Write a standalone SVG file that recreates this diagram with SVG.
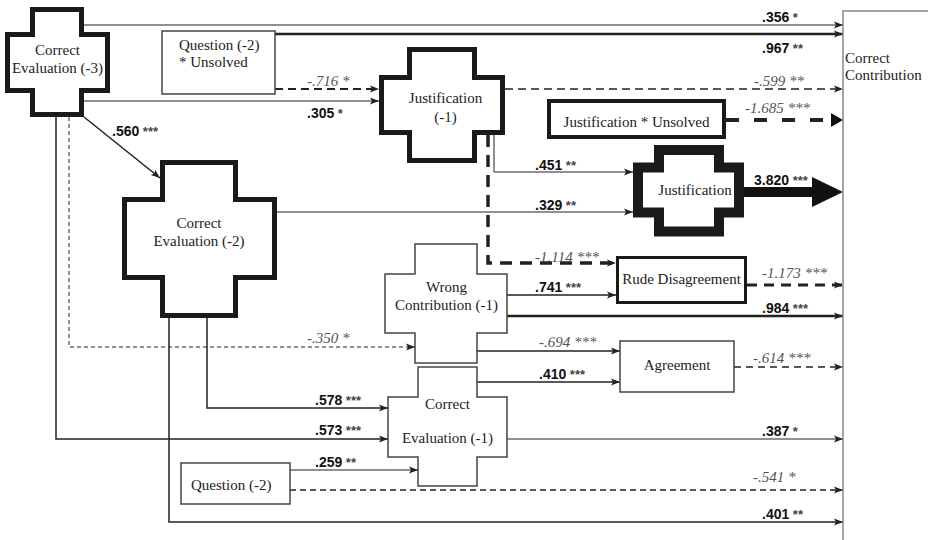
<svg xmlns="http://www.w3.org/2000/svg" width="928" height="540" viewBox="0 0 928 540">
<defs>
<marker id="arr" markerUnits="userSpaceOnUse" markerWidth="10" markerHeight="8" refX="9" refY="4" orient="auto">
<path d="M0,0.5 L9,4 L0,7.5 L2,4 Z" fill="#222"/>
</marker>
</defs>
<style>
.node{font-size:15px;fill:#222}
.thick{fill:#fff;stroke:#1a1a1a;stroke-linejoin:miter}
.thin{fill:#fff;stroke:#444;stroke-width:1.5}
.c{fill:none;stroke:#222}
.b{font-weight:bold;font-size:14px;fill:#111}
.b tspan{fill:#444;font-size:13px}
.i{font-style:italic;font-size:15px;fill:#555}
</style>
<rect width="928" height="540" fill="#fff"/>

<g id="connectors">
<path class="c" d="M83,25 H843" stroke-width="1.2" stroke="#555" marker-end="url(#arr)"/>
<path class="c" d="M275,34 H843" stroke-width="2.5" marker-end="url(#arr)"/>
<path class="c" d="M275,89 H379" stroke-width="2" stroke-dasharray="8 5" marker-end="url(#arr)"/>
<path class="c" d="M83,101 H379" stroke-width="1.2" stroke="#444" marker-end="url(#arr)"/>
<path class="c" d="M505,89 H843" stroke-width="1.5" stroke-dasharray="8 5" marker-end="url(#arr)"/>
<path class="c" d="M726,120 H832" stroke-width="4" stroke-dasharray="13 15"/>
<polygon points="831,113 843,120 831,127" fill="#111"/>
<path class="c" d="M84,117 L160,178" stroke-width="1.5" marker-end="url(#arr)"/>
<path class="c" d="M494,135 V172 H633" stroke-width="1" stroke="#444" marker-end="url(#arr)"/>
<path class="c" d="M277,212 H633" stroke-width="1" stroke="#444" marker-end="url(#arr)"/>
<rect x="744" y="187" width="70" height="10" fill="#111"/>
<polygon points="812,177 843,192 812,207" fill="#111"/>
<path class="c" d="M488,135 V263 H616" stroke-width="3.5" stroke-dasharray="12 8" marker-end="url(#arr)"/>
<path class="c" d="M507,295 H616" stroke-width="1.5" marker-end="url(#arr)"/>
<path class="c" d="M747,285 H843" stroke-width="3" stroke-dasharray="10 7" marker-end="url(#arr)"/>
<path class="c" d="M507,316 H843" stroke-width="2.5" marker-end="url(#arr)"/>
<path class="c" d="M69,117 V347 H415" stroke-width="1" stroke-dasharray="4 3" marker-end="url(#arr)"/>
<path class="c" d="M477,351 H620" stroke-width="1.5" marker-end="url(#arr)"/>
<path class="c" d="M734,367 H843" stroke-width="1.5" stroke-dasharray="7 5" marker-end="url(#arr)"/>
<path class="c" d="M477,382 H620" stroke-width="1.5" marker-end="url(#arr)"/>
<path class="c" d="M207,318 V408 H388" stroke-width="1.5" marker-end="url(#arr)"/>
<path class="c" d="M56,117 V439 H388" stroke-width="1.5" marker-end="url(#arr)"/>
<path class="c" d="M507,439 H843" stroke-width="1.2" stroke="#444" marker-end="url(#arr)"/>
<path class="c" d="M290,470 H418" stroke-width="1.2" stroke="#777" marker-end="url(#arr)"/>
<path class="c" d="M290,490 H843" stroke-width="1.3" stroke-dasharray="6 4" marker-end="url(#arr)"/>
<path class="c" d="M169,318 V522 H843" stroke-width="1.5" marker-end="url(#arr)"/>

<g font-family="Liberation Sans, Arial, sans-serif">
<text class="b" x="762" y="22">.356<tspan> *</tspan></text>
<text class="b" x="762" y="53">.967<tspan> **</tspan></text>
<text class="b" x="307" y="118">.305<tspan> *</tspan></text>
<text class="b" x="112" y="136">.560<tspan> ***</tspan></text>
<text class="b" x="535" y="170">.451<tspan> **</tspan></text>
<text class="b" x="535" y="210">.329<tspan> **</tspan></text>
<text class="b" x="754" y="185">3.820<tspan> ***</tspan></text>
<text class="b" x="535" y="292">.741<tspan> ***</tspan></text>
<text class="b" x="762" y="313">.984<tspan> ***</tspan></text>
<text class="b" x="539" y="379">.410<tspan> ***</tspan></text>
<text class="b" x="315" y="405">.578<tspan> ***</tspan></text>
<text class="b" x="315" y="435">.573<tspan> ***</tspan></text>
<text class="b" x="762" y="436">.387<tspan> *</tspan></text>
<text class="b" x="315" y="467">.259<tspan> **</tspan></text>
<text class="b" x="762" y="519">.401<tspan> **</tspan></text>
</g>
<g font-family="Liberation Serif, DejaVu Serif, serif">
<text class="i" x="307" y="86">-.716 *</text>
<text class="i" x="754" y="86">-.599 **</text>
<text class="i" x="745" y="113">-1.685 ***</text>
<text class="i" x="535" y="262">-1.114 ***</text>
<text class="i" x="762" y="278">-1.173 ***</text>
<text class="i" x="307" y="343">-.350 *</text>
<text class="i" x="539" y="347">-.694 ***</text>
<text class="i" x="753" y="363">-.614 ***</text>
<text class="i" x="753" y="482">-.541 *</text>
</g>
</g>

<g font-family="Liberation Serif, DejaVu Serif, serif">
<g id="correct-evaluation-3">
<path class="thick" stroke-width="5" d="M32.5,9.5 H81.5 V34.5 H107.5 V90.5 H81.5 V114.5 H32.5 V90.5 H7.5 V34.5 H32.5 Z"/>
<text class="node" x="57.5" y="55" text-anchor="middle">Correct</text>
<text class="node" x="57.5" y="73" text-anchor="middle">Evaluation (-3)</text>
</g>

<g id="question-2-unsolved">
<rect class="thin" x="162" y="31" width="113" height="63" stroke-width="1.2"/>
<text class="node" x="179" y="50">Question (-2)</text>
<text class="node" x="179" y="67">* Unsolved</text>
</g>

<g id="justification-1">
<path class="thick" stroke-width="5" d="M409.5,49.5 H474.5 V77.5 H502.5 V132.5 H474.5 V160.5 H409.5 V132.5 H381.5 V77.5 H409.5 Z"/>
<text class="node" x="445.5" y="103" text-anchor="middle">Justification</text>
<text class="node" x="445.5" y="122" text-anchor="middle">(-1)</text>
</g>

<g id="justification-unsolved">
<rect class="thick" x="549" y="101" width="175" height="36" stroke-width="4"/>
<text class="node" x="636.5" y="127" text-anchor="middle">Justification * Unsolved</text>
</g>

<g id="correct-evaluation-2">
<path class="thick" stroke-width="5" d="M162.5,162.5 H235.5 V199.5 H274.5 V277.5 H235.5 V315.5 H162.5 V277.5 H124.5 V199.5 H162.5 Z"/>
<text class="node" x="199" y="228" text-anchor="middle">Correct</text>
<text class="node" x="199" y="246" text-anchor="middle">Evaluation (-2)</text>
</g>

<g id="justification">
<path class="thick" stroke-width="10" d="M659,150 H719 V167.5 H739 V212.5 H719 V231.5 H659 V212.5 H638 V167.5 H659 Z"/>
<text class="node" x="695" y="195" text-anchor="middle">Justification</text>
</g>

<g id="wrong-contribution-1">
<path class="thin" d="M415,244 H477 V274 H507 V333 H477 V363 H415 V333 H385 V274 H415 Z"/>
<text class="node" x="446.5" y="292" text-anchor="middle">Wrong</text>
<text class="node" x="446.5" y="310" text-anchor="middle">Contribution (-1)</text>
</g>

<g id="rude-disagreement">
<rect class="thick" x="617.5" y="257.5" width="128" height="45" stroke-width="3"/>
<text class="node" x="681.5" y="284" text-anchor="middle">Rude Disagreement</text>
</g>

<g id="agreement">
<rect class="thin" x="620" y="341" width="114" height="51"/>
<text class="node" x="677" y="370" text-anchor="middle">Agreement</text>
</g>

<g id="correct-evaluation-1">
<path class="thin" d="M418,367 H477 V397 H507 V457 H477 V486 H418 V457 H388 V397 H418 Z"/>
<text class="node" x="447.5" y="409" text-anchor="middle">Correct</text>
<text class="node" x="447.5" y="443" text-anchor="middle">Evaluation (-1)</text>
</g>

<g id="question-2">
<rect class="thin" x="181" y="463" width="109" height="41"/>
<text class="node" x="191" y="490">Question (-2)</text>
</g>

<g id="correct-contribution">
<rect x="843" y="11" width="100" height="540" fill="none" stroke="#888" stroke-width="1.5"/>
<text class="node" x="845" y="63">Correct</text>
<text class="node" x="845" y="80">Contribution</text>
</g>
</g>
</svg>
